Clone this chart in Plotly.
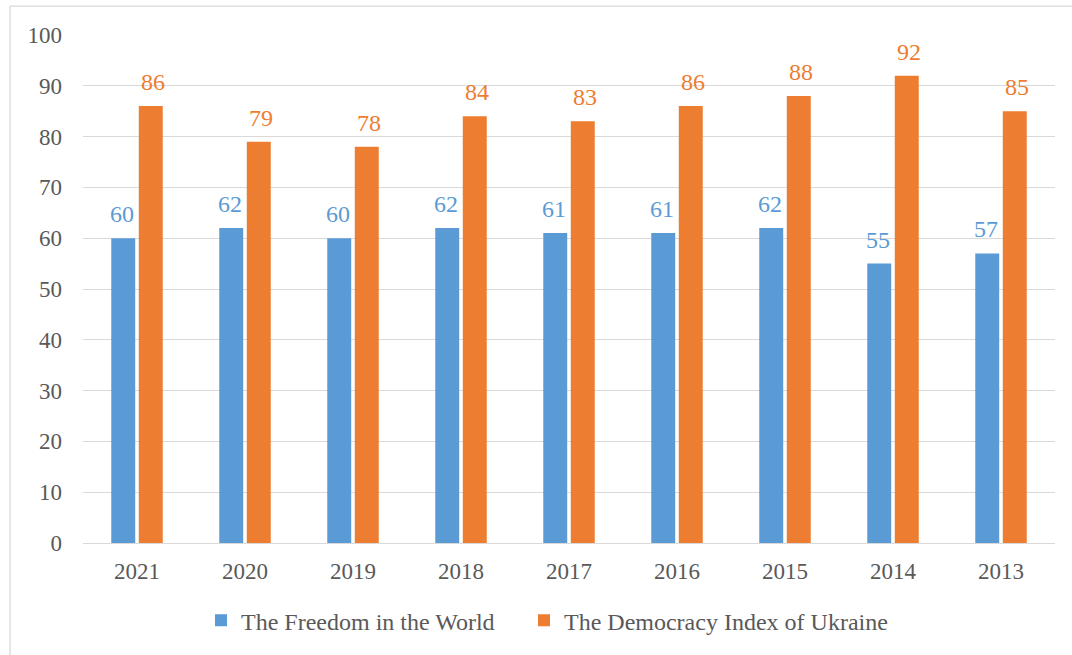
import plotly.graph_objects as go

years = ["2021", "2020", "2019", "2018", "2017", "2016", "2015", "2014", "2013"]
freedom = [60, 62, 60, 62, 61, 61, 62, 55, 57]
democracy = [86, 79, 78, 84, 83, 86, 88, 92, 85]
series_names = ["The Freedom in the World", "The Democracy Index of Ukraine"]
colors = ["#5B9BD5", "#ED7D31"]

FONT = "Liberation Serif, Times New Roman, serif"
FS = 23

fig = go.Figure()
for i, (name, vals, col) in enumerate(zip(series_names, [freedom, democracy], colors)):
    fig.add_trace(go.Bar(
        x=years, y=vals, name=name, marker=dict(color=col, line=dict(width=0)),
        legendwidth=278 if i == 0 else 340,
    ))
    for j, v in enumerate(vals):
        fig.add_annotation(x=j, y=v, text=str(v), showarrow=False, yanchor="bottom",
                           xshift=-15.5 if i == 0 else 15.5, yshift=9,
                           font=dict(family=FONT, size=24, color=col))

fig.update_layout(
    width=1072, height=655,
    margin=dict(l=83, r=17, t=35, b=110),
    paper_bgcolor="white", plot_bgcolor="white",
    barmode="group", bargap=0.49, bargroupgap=0.13,
    font=dict(family=FONT, size=FS, color="#595959"),
    showlegend=True,
    legend=dict(orientation="h", x=(201 - 83) / 972, xanchor="left", y=-0.153, yanchor="middle",
                font=dict(family=FONT, size=24, color="#595959"), itemwidth=30,
                traceorder="normal"),
    xaxis=dict(type="category", categoryorder="array", categoryarray=years,
               range=[-0.5, len(years) - 0.5],
               showgrid=False, showline=False, ticks="", ticklabelstandoff=12,
               tickfont=dict(family=FONT, size=FS, color="#595959")),
    yaxis=dict(range=[0, 100], dtick=10, tick0=0, showgrid=True, gridcolor="#D9D9D9", gridwidth=1.3,
               zeroline=True, zerolinecolor="#D9D9D9", zerolinewidth=1.3, showline=False, ticks="",
               ticklabelstandoff=20, tickfont=dict(family=FONT, size=FS, color="#595959")),
    shapes=[
        dict(type="line", xref="paper", yref="paper", x0=-0.0751, x1=-0.0751, y0=1.057, y1=-0.3,
             line=dict(color="#D9D9D9", width=1.3)),
        dict(type="line", xref="paper", yref="paper", x0=-0.0751, x1=1.05, y0=1.057, y1=1.057,
             line=dict(color="#D9D9D9", width=1.3)),
    ],
)

fig.write_html("out.html", config={"displayModeBar": False},
               post_script="document.body.style.margin='0';")
